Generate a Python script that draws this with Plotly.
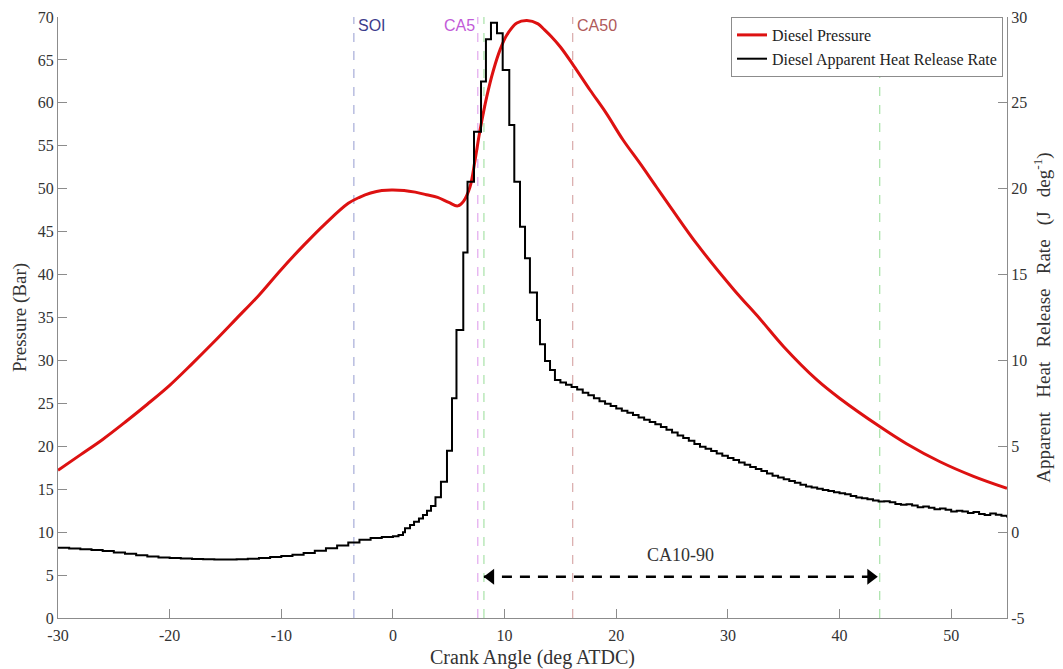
import numpy as np
import plotly.graph_objects as go

# ---------------- data ----------------
press_x = [-30, -28, -26, -24, -22, -20, -18, -16, -14, -12, -10, -8, -6, -4, -3, -2, -1, 0, 1, 2, 3, 4, 5,
           5.8, 6.3, 6.9, 7.35, 7.8, 8.4, 9.0, 9.6, 10.2, 11.1, 12.0, 13.0, 13.5, 14.2, 15.0, 16.15, 17.65,
           19.1, 20.6, 22.1, 23.6, 25, 27.2, 30.5, 32.9, 35, 38, 40, 43.6, 46, 49, 52, 55]
press_y = [17.2, 19.0, 20.8, 22.8, 24.9, 27.1, 29.6, 32.2, 34.9, 37.6, 40.6, 43.4, 46.0, 48.3, 49.0, 49.5,
           49.8, 49.85, 49.8, 49.6, 49.3, 49.0, 48.4, 48.0, 48.5, 50.2, 53.3, 56.8, 60.7, 63.8, 66.2, 67.9,
           69.3, 69.6, 69.2, 68.6, 67.7, 66.5, 64.4, 61.5, 58.8, 55.7, 53.0, 50.2, 47.6, 43.6, 38.3, 34.8,
           31.6, 27.7, 25.6, 22.3, 20.3, 18.2, 16.5, 15.1]

hrr_x = [-30, -29, -28, -27, -26, -25, -24, -23, -22, -21, -20, -19, -18, -17, -16, -15, -14, -13, -12,
         -11, -10, -9, -8, -7, -6, -5, -4, -3, -2, -1, 0, 0.5,
         0.9, 1.08, 1.53, 1.89, 2.33, 2.69, 3.05, 3.41, 3.81, 4.30, 4.84, 5.29, 5.69, 6.30, 6.68, 7.26,
         7.89, 8.33, 8.78, 9.32, 9.83, 10.42, 10.87, 11.38, 11.83, 12.27, 12.90, 13.17, 13.62, 14.07, 14.51,
         15.0, 15.5, 16.0, 16.5, 17.0, 17.5, 18.0, 18.5, 19.0, 19.5, 20.0, 20.5, 21.0, 21.5, 22.0, 22.5,
         23.0, 23.5, 24.0, 24.5, 25.0, 25.5, 26.0, 26.5, 27.0, 27.5, 28.0, 28.5, 29.0, 29.5, 30.0, 30.5,
         31.0, 31.5, 32.0, 32.5, 33.0, 33.5, 34.0, 34.5, 35.0, 35.5, 36.0, 36.5, 37.0, 37.5, 38.0, 38.5,
         39.0, 39.5, 40.0, 40.5, 41.0, 41.5, 42.0, 42.5, 43.0, 43.5, 44.0, 44.5, 45.0, 45.5, 46.0, 46.5,
         47.0, 47.5, 48.0, 48.5, 49.0, 49.5, 50.0, 50.5, 51.0, 51.5, 52.0, 52.5, 53.0, 53.5, 54.0, 54.5, 55.0]
hrr_y = [-0.91, -0.95, -1.0, -1.04, -1.1, -1.18, -1.26, -1.35, -1.42, -1.47, -1.51, -1.54, -1.56, -1.58,
         -1.59, -1.6, -1.58, -1.55, -1.5, -1.45, -1.39, -1.31, -1.21, -1.08, -0.94, -0.78, -0.6, -0.45,
         -0.34, -0.29, -0.24, -0.17,
         0.0, 0.22, 0.41, 0.61, 0.8, 1.0, 1.25, 1.52, 2.03, 2.94, 4.74, 7.8, 11.77, 16.28, 20.41, 23.32,
         26.24, 28.7, 29.67, 29.05, 26.92, 23.71, 20.41, 17.79, 15.95, 13.95, 12.36, 10.94, 9.97, 9.44, 8.86,
         8.72, 8.58, 8.45, 8.3, 8.12, 7.97, 7.8, 7.62, 7.48, 7.35, 7.2, 7.07, 6.95, 6.82, 6.68, 6.54,
         6.42, 6.28, 6.12, 5.96, 5.8, 5.63, 5.48, 5.32, 5.14, 4.98, 4.85, 4.72, 4.58, 4.45, 4.32, 4.2,
         4.06, 3.93, 3.8, 3.68, 3.56, 3.42, 3.28, 3.18, 3.08, 2.98, 2.88, 2.76, 2.66, 2.6, 2.52, 2.46,
         2.4, 2.32, 2.26, 2.2, 2.1, 2.02, 1.98, 1.92, 1.84, 1.78, 1.8, 1.74, 1.64, 1.6, 1.62, 1.55,
         1.45, 1.5, 1.42, 1.33, 1.38, 1.3, 1.2, 1.24, 1.2, 1.12, 1.18, 1.06, 1.0, 1.08, 1.02, 0.95, 0.86]

marker_names = ["SOI", "CA5", "CA10", "CA50", "CA90"]
marker_pos = [-3.5, 7.6, 8.15, 16.1, 43.6]
marker_line_colors = ["#a7acd8", "#e2a8ee", "#a8e2a8", "#d9aaaa", "#a8e2a8"]
marker_text_colors = ["#3c3c8c", "#c25ad8", None, "#b05a5a", None]

arrow_x = [8.15, 43.4]
arrow_level = 4.8
span_label = "CA10-90"

x_ticks = [-30, -20, -10, 0, 10, 20, 30, 40, 50]
y_ticks = [0, 5, 10, 15, 20, 25, 30, 35, 40, 45, 50, 55, 60, 65, 70]
y2_ticks = [-5, 0, 5, 10, 15, 20, 25, 30]

# ---------------- figure ----------------
fig = go.Figure()

serif = "Liberation Serif, Times New Roman, serif"
sans = "Liberation Sans, Arial, sans-serif"

for name, pos, lc in zip(marker_names, marker_pos, marker_line_colors):
    fig.add_shape(type="line", x0=pos, x1=pos, y0=0, y1=1, xref="x", yref="paper",
                  line=dict(color=lc, width=1.2, dash="dash"), layer="below")

for name, pos, tc in zip(marker_names, marker_pos, marker_text_colors):
    if tc is None:
        continue
    right = (name == "CA5")
    fig.add_annotation(x=pos, y=1, xref="x", yref="paper", text=name, showarrow=False,
                       xanchor="right" if right else "left", yanchor="top",
                       xshift=-1 if right else 2, yshift=2,
                       font=dict(family=sans, size=16, color=tc))

fig.add_trace(go.Scatter(x=hrr_x, y=hrr_y, yaxis="y2", mode="lines", line_shape="hv",
                         name="Diesel Apparent Heat Release Rate",
                         line=dict(color="black", width=2), legendrank=2))
fig.add_trace(go.Scatter(x=press_x, y=press_y, mode="lines", line_shape="spline",
                         name="Diesel Pressure",
                         line=dict(color="#dd1111", width=3), legendrank=1))

# span arrow
fig.add_trace(go.Scatter(x=arrow_x, y=[arrow_level, arrow_level], mode="lines",
                         line=dict(color="black", width=2.5, dash="10px,8px"), showlegend=False,
                         hoverinfo="skip"))
fig.add_trace(go.Scatter(x=[arrow_x[0] + 0.6, arrow_x[1] - 0.6], y=[arrow_level, arrow_level],
                         mode="markers", showlegend=False, hoverinfo="skip",
                         marker=dict(symbol=["triangle-left", "triangle-right"], size=14, color="black")))
fig.add_annotation(x=(arrow_x[0] + arrow_x[1]) / 2, y=7.3, text=span_label, showarrow=False,
                   font=dict(family=serif, size=18, color="#333"))

axis_common = dict(showline=True, linecolor="#8c8c8c", linewidth=1, ticks="inside", ticklen=9,
                   tickcolor="#8c8c8c", showgrid=False, zeroline=False, automargin=False,
                   tickfont=dict(family=serif, size=16, color="#333"))

fig.update_layout(
    width=1063, height=669,
    margin=dict(l=58, r=56, t=17, b=51),
    plot_bgcolor="white", paper_bgcolor="white",
    xaxis=dict(range=[-30, 55], tickvals=x_ticks, ticktext=[str(v) for v in x_ticks],
               ticklabelstandoff=3,
               title=dict(text="Crank Angle (deg ATDC)", standoff=6,
                          font=dict(family=serif, size=20, color="#333")), **axis_common),
    yaxis=dict(range=[0, 70], tickvals=y_ticks, ticktext=[str(v) for v in y_ticks],
               title=dict(text="Pressure (Bar)", standoff=6,
                          font=dict(family=serif, size=19, color="#333")), **axis_common),
    yaxis2=dict(range=[-5, 30], tickvals=y2_ticks, ticktext=[str(v) for v in y2_ticks],
                overlaying="y", side="right",
                title=dict(text="Apparent&nbsp;&nbsp;&nbsp;Heat&nbsp;&nbsp;&nbsp;Release&nbsp;&nbsp;&nbsp;"
                                "Rate&nbsp;&nbsp;&nbsp;(J&nbsp;&nbsp;&nbsp;deg<sup>-1</sup>)",
                           standoff=10, font=dict(family=serif, size=19, color="#333")),
                **axis_common),
    legend=dict(x=0.9958, y=1.0, xanchor="right", yanchor="top", bgcolor="white",
                bordercolor="#8c8c8c", borderwidth=1, font=dict(family=serif, size=16, color="#222"),
                tracegroupgap=0, itemwidth=30),
    showlegend=True,
)

fig.write_html("out.html")
